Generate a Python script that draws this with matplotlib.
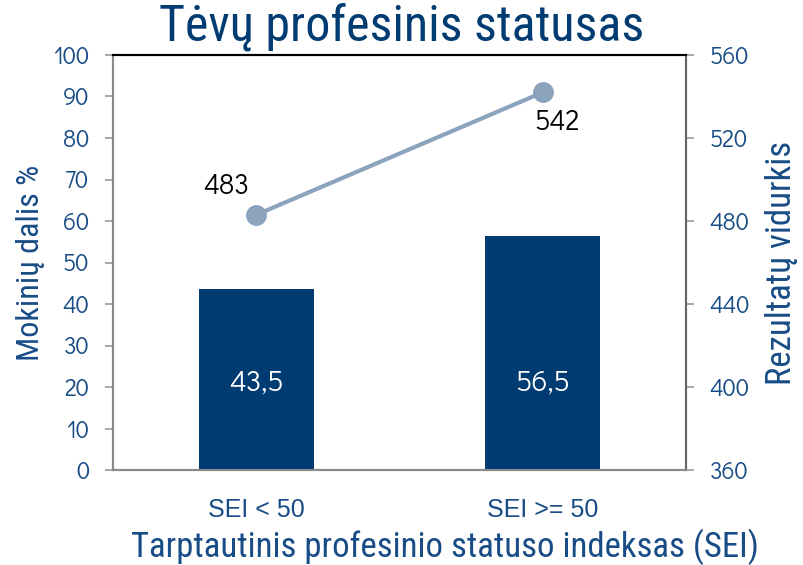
import matplotlib.pyplot as plt

categories = ["SEI < 50", "SEI >= 50"]
shares = [43.5, 56.5]
scores = [483, 542]
share_labels = ["43,5", "56,5"]

navy = "#003B71"
steel = "#8CA3BD"
txt = "#174C86"
narrow = ["Roboto Condensed", "DejaVu Sans"]
gothic = ["Didact Gothic", "DejaVu Sans"]
plain = ["Liberation Sans", "DejaVu Sans"]

fig = plt.figure(figsize=(8.04, 5.65), dpi=100)
ax = fig.add_axes([113 / 804, 1 - 470 / 565, 573 / 804, 415 / 565])
ax2 = ax.twinx()

x = range(len(categories))
ax.bar(x, shares, width=0.4, color=navy, zorder=2)
for i, v in enumerate(shares):
    ax.text(i, 21, share_labels[i], ha="center", va="center", color="white",
            fontsize=21, family=gothic)

ax2.plot(x, scores, color=steel, lw=3, marker="o", ms=14, zorder=3)
ax2.annotate(str(scores[0]), (0, scores[0]), xytext=(-22, 20), textcoords="offset points",
             ha="center", va="center", fontsize=20, color="black", family=gothic)
ax2.annotate(str(scores[1]), (1, scores[1]), xytext=(10, -22), textcoords="offset points",
             ha="center", va="center", fontsize=20, color="black", family=gothic)

ax.set_xlim(-0.5, 1.5)
ax.set_ylim(0, 100)
ax.set_yticks(range(0, 101, 10))
ax2.set_ylim(360, 560)
ax2.set_yticks(range(360, 561, 40))
ax.set_xticks(list(x))
ax.set_xticklabels(categories, fontsize=18, color=txt, family=plain)

for a in (ax, ax2):
    a.tick_params(axis="y", colors="#999999", labelcolor=txt, labelsize=17, length=6,
                  width=1.2, pad=11)
    for lab in a.get_yticklabels():
        lab.set_family(gothic)
    for s in a.spines.values():
        s.set_color("#8a8a8a")
        s.set_linewidth(1.5)
    a.spines["top"].set_color("black")
ax2.spines["right"].set_color("#666666")
ax.tick_params(axis="x", length=0, pad=20)

ax.set_ylabel("Mokinių dalis %", fontsize=23, color=txt, family=narrow, labelpad=6)
ax2.set_ylabel("Rezultatų vidurkis", fontsize=25, color=txt, family=narrow, labelpad=11)
# x axis title sits a bit right of centre in the original
fig.text(445 / 804, 0.032, "Tarptautinis profesinio statuso indeksas (SEI)", ha="center",
         va="center", fontsize=25, color=txt, family=narrow)
fig.text(0.5, 0.952, "Tėvų profesinis statusas", ha="center", va="center", fontsize=36,
         color=navy, family=narrow)

fig.savefig("out.png", dpi=100)
